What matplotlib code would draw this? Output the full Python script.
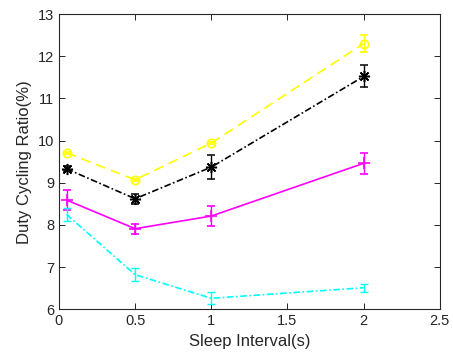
import matplotlib
matplotlib.use("Agg")
import matplotlib.pyplot as plt

plt.rcParams['font.family'] = ['Liberation Sans', 'DejaVu Sans']

sleep_interval = [0.05, 0.5, 1.0, 2.0]

yellow_vals = [9.71, 9.07, 9.94, 12.30]
yellow_err = [0.03, 0.03, 0.03, 0.21]

black_vals = [9.33, 8.62, 9.37, 11.52]
black_err = [0.06, 0.12, 0.29, 0.26]

magenta_vals = [8.59, 7.91, 8.21, 9.46]
magenta_err = [0.24, 0.12, 0.24, 0.25]

cyan_vals = [8.25, 6.82, 6.26, 6.51]
cyan_err = [0.15, 0.16, 0.14, 0.10]

x_ticks = [0, 0.5, 1, 1.5, 2, 2.5]
x_tick_labels = ['0', '0.5', '1', '1.5', '2', '2.5']
y_ticks = [6, 7, 8, 9, 10, 11, 12, 13]

fig = plt.figure(figsize=(4.53, 3.6), dpi=100)
ax = fig.add_axes([0.130, 0.141, 0.841, 0.820])

# eight-armed asterisk marker
asterisk = (8, 2, 0)

ax.errorbar(sleep_interval, yellow_vals, yerr=yellow_err, color='#ffff00',
            linestyle=(0, (6, 3.5)), linewidth=1.2, marker='o', markersize=6,
            markerfacecolor='none', markeredgewidth=1.2, capsize=3, elinewidth=1)
ax.errorbar(sleep_interval, black_vals, yerr=black_err, color='black',
            linestyle=(0, (4, 1.5, 1, 1.5)), linewidth=1.2, marker=asterisk,
            markersize=8, markeredgewidth=1.1, capsize=3, elinewidth=1)
ax.errorbar(sleep_interval, magenta_vals, yerr=magenta_err, color='#ff00ff',
            linestyle='-', linewidth=1.2, marker='+', markersize=8,
            markeredgewidth=1.2, capsize=3, elinewidth=1)
ax.errorbar(sleep_interval, cyan_vals, yerr=cyan_err, color='#00ffff',
            linestyle=(0, (4, 1.5, 1, 1.5)), linewidth=1.2, capsize=3, elinewidth=1)

ax.set_xlim(0, 2.5)
ax.set_ylim(6, 13)
ax.set_xticks(x_ticks)
ax.set_xticklabels(x_tick_labels)
ax.set_yticks(y_ticks)
ax.tick_params(direction='in', top=True, right=True, labelsize=10.5,
               colors='#262626', length=4, width=0.7)
for s in ax.spines.values():
    s.set_color('#262626')
    s.set_linewidth(0.8)

ax.set_xlabel('Sleep Interval(s)', fontsize=12, color='#262626')
ax.set_ylabel('Duty Cycling Ratio(%)', fontsize=12, color='#262626')

fig.savefig('out.png', dpi=100)
